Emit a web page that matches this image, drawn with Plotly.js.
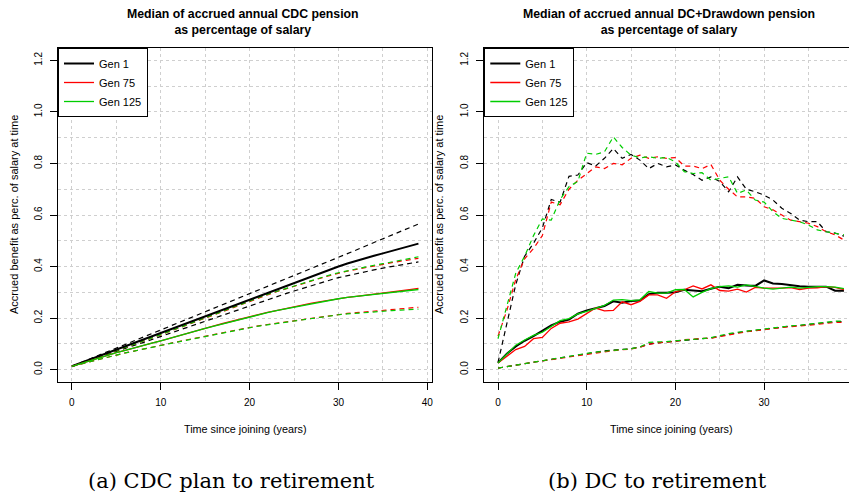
<!DOCTYPE html>
<html>
<head>
<meta charset="utf-8">
<script src="https://cdn.plot.ly/plotly-3.0.1.min.js"></script>
<style>html,body{margin:0;padding:0;background:#fff;} #chart{width:849px;height:498px;}</style>
</head>
<body>
<div id="chart"></div>
<script>
// ---------- data ----------
const years = [0,1,2,3,4,5,6,7,8,9,10,11,12,13,14,15,16,17,18,19,20,21,22,23,24,25,26,27,28,29,30,31,32,33,34,35,36,37,38,39];
const genNames = ["Gen 1", "Gen 75", "Gen 125"];
const genColors = ["#000000", "#FF0000", "#00CD00"];

// Panel (a): CDC plan – median (solid) with upper / lower dashed bands
const cdcGen1Med  = [0.013,0.026,0.039,0.052,0.065,0.078,0.091,0.104,0.117,0.129,0.142,0.155,0.167,0.180,0.193,0.206,0.219,0.232,0.245,0.258,0.271,0.284,0.297,0.310,0.323,0.336,0.349,0.362,0.375,0.388,0.400,0.412,0.423,0.433,0.442,0.451,0.461,0.471,0.480,0.489];
const cdcGen1Hi   = [0.013,0.027,0.041,0.055,0.069,0.084,0.098,0.112,0.126,0.141,0.155,0.169,0.183,0.197,0.211,0.225,0.239,0.253,0.266,0.280,0.293,0.307,0.321,0.335,0.349,0.363,0.378,0.392,0.407,0.421,0.436,0.450,0.464,0.479,0.493,0.507,0.522,0.536,0.551,0.565];
const cdcGen1Lo   = [0.013,0.025,0.037,0.049,0.060,0.072,0.083,0.094,0.105,0.117,0.128,0.140,0.152,0.163,0.175,0.187,0.199,0.211,0.223,0.236,0.248,0.260,0.271,0.283,0.294,0.305,0.316,0.326,0.337,0.347,0.357,0.365,0.373,0.380,0.387,0.394,0.400,0.406,0.412,0.418];
const cdcGen75Med = [0.013,0.024,0.035,0.045,0.056,0.066,0.075,0.085,0.094,0.103,0.112,0.122,0.132,0.141,0.151,0.160,0.170,0.179,0.188,0.197,0.206,0.214,0.222,0.229,0.237,0.244,0.251,0.258,0.264,0.270,0.276,0.280,0.284,0.288,0.292,0.296,0.300,0.305,0.310,0.315];
const cdcGen75Hi  = [0.013,0.025,0.037,0.049,0.061,0.073,0.085,0.097,0.110,0.122,0.135,0.148,0.161,0.174,0.187,0.200,0.214,0.227,0.241,0.254,0.267,0.279,0.290,0.302,0.313,0.324,0.334,0.345,0.355,0.365,0.374,0.382,0.389,0.396,0.403,0.409,0.415,0.421,0.427,0.432];
const cdcGen75Lo  = [0.013,0.022,0.031,0.040,0.048,0.057,0.065,0.072,0.080,0.087,0.095,0.102,0.109,0.116,0.123,0.130,0.137,0.144,0.151,0.158,0.165,0.170,0.175,0.180,0.185,0.190,0.195,0.200,0.205,0.210,0.215,0.218,0.221,0.224,0.227,0.230,0.233,0.236,0.239,0.242];
const cdcGen125Med= [0.013,0.024,0.035,0.045,0.056,0.066,0.075,0.085,0.094,0.103,0.112,0.122,0.131,0.141,0.150,0.160,0.169,0.178,0.187,0.196,0.205,0.213,0.221,0.229,0.236,0.243,0.250,0.257,0.263,0.269,0.275,0.280,0.284,0.288,0.291,0.295,0.298,0.302,0.306,0.311];
const cdcGen125Hi = [0.013,0.025,0.037,0.049,0.061,0.073,0.086,0.098,0.111,0.123,0.136,0.149,0.162,0.175,0.188,0.201,0.215,0.228,0.242,0.255,0.268,0.280,0.292,0.303,0.314,0.325,0.336,0.347,0.357,0.367,0.376,0.384,0.391,0.398,0.405,0.411,0.418,0.425,0.432,0.438];
const cdcGen125Lo = [0.013,0.022,0.031,0.040,0.048,0.057,0.065,0.072,0.080,0.087,0.094,0.101,0.108,0.115,0.122,0.129,0.136,0.143,0.150,0.157,0.164,0.169,0.174,0.179,0.184,0.189,0.194,0.199,0.204,0.209,0.213,0.216,0.219,0.222,0.225,0.227,0.229,0.231,0.233,0.235];

// Panel (b): DC + drawdown
const dcGen1Med   = [0.026,0.062,0.090,0.112,0.130,0.150,0.172,0.186,0.194,0.217,0.230,0.238,0.247,0.265,0.260,0.266,0.268,0.293,0.298,0.298,0.300,0.310,0.308,0.304,0.314,0.322,0.316,0.329,0.326,0.325,0.346,0.334,0.332,0.327,0.324,0.322,0.323,0.322,0.306,0.306];
const dcGen1Hi    = [0.028,0.180,0.330,0.440,0.490,0.550,0.660,0.650,0.750,0.755,0.803,0.790,0.820,0.858,0.820,0.835,0.813,0.780,0.800,0.787,0.794,0.774,0.757,0.735,0.748,0.730,0.690,0.748,0.700,0.690,0.677,0.658,0.626,0.606,0.580,0.574,0.574,0.535,0.530,0.518];
const dcGen1Lo    = [0.006,0.012,0.018,0.024,0.030,0.035,0.040,0.046,0.051,0.056,0.062,0.068,0.073,0.076,0.079,0.081,0.088,0.099,0.104,0.107,0.111,0.114,0.117,0.120,0.123,0.130,0.137,0.143,0.148,0.152,0.156,0.161,0.166,0.169,0.171,0.175,0.179,0.183,0.186,0.186];
const dcGen75Med  = [0.026,0.052,0.078,0.090,0.120,0.125,0.160,0.180,0.185,0.196,0.219,0.239,0.228,0.230,0.263,0.252,0.265,0.290,0.290,0.277,0.302,0.310,0.325,0.313,0.329,0.307,0.305,0.312,0.301,0.319,0.316,0.315,0.316,0.318,0.311,0.316,0.317,0.322,0.319,0.310];
const dcGen75Hi   = [0.130,0.230,0.350,0.430,0.470,0.520,0.650,0.640,0.700,0.735,0.760,0.787,0.780,0.800,0.795,0.820,0.832,0.820,0.826,0.820,0.823,0.790,0.790,0.780,0.796,0.735,0.700,0.670,0.670,0.665,0.632,0.620,0.600,0.580,0.574,0.568,0.555,0.535,0.523,0.503];
const dcGen75Lo   = [0.006,0.011,0.017,0.023,0.029,0.034,0.039,0.045,0.050,0.055,0.061,0.066,0.070,0.074,0.077,0.080,0.087,0.098,0.104,0.107,0.110,0.116,0.119,0.121,0.122,0.128,0.135,0.142,0.147,0.151,0.154,0.159,0.164,0.166,0.168,0.172,0.176,0.180,0.183,0.183];
const dcGen125Med = [0.026,0.062,0.095,0.115,0.133,0.145,0.168,0.190,0.198,0.216,0.226,0.239,0.249,0.270,0.272,0.268,0.271,0.303,0.297,0.297,0.310,0.311,0.282,0.300,0.314,0.322,0.325,0.320,0.329,0.323,0.316,0.312,0.316,0.320,0.316,0.320,0.322,0.322,0.320,0.314];
const dcGen125Hi  = [0.120,0.245,0.374,0.440,0.520,0.585,0.580,0.660,0.710,0.730,0.840,0.835,0.845,0.903,0.862,0.832,0.822,0.826,0.820,0.823,0.806,0.768,0.761,0.764,0.735,0.742,0.748,0.684,0.697,0.658,0.650,0.613,0.587,0.580,0.574,0.561,0.542,0.535,0.529,0.523];
const dcGen125Lo  = [0.006,0.012,0.018,0.024,0.030,0.035,0.041,0.047,0.052,0.057,0.063,0.068,0.072,0.075,0.078,0.081,0.088,0.106,0.107,0.109,0.112,0.114,0.116,0.120,0.124,0.132,0.140,0.145,0.149,0.153,0.157,0.162,0.167,0.170,0.172,0.176,0.180,0.184,0.188,0.188];

const titleA = "Median of accrued annual CDC pension<br>as percentage of salary";
const titleB = "Median of accrued annual DC+Drawdown pension<br>as percentage of salary";
const xTitle = "Time since joining (years)";
const yTitle = "Accrued benefit as perc. of salary at time";
const captionA = "(a) CDC plan to retirement";
const captionB = "(b) DC to retirement";

// ---------- traces ----------
const panels = [
  {xa: "x", ya: "y", legend: "legend",
   med: [cdcGen1Med, cdcGen75Med, cdcGen125Med],
   hi:  [cdcGen1Hi,  cdcGen75Hi,  cdcGen125Hi],
   lo:  [cdcGen1Lo,  cdcGen75Lo,  cdcGen125Lo]},
  {xa: "x2", ya: "y2", legend: "legend2",
   med: [dcGen1Med, dcGen75Med, dcGen125Med],
   hi:  [dcGen1Hi,  dcGen75Hi,  dcGen125Hi],
   lo:  [dcGen1Lo,  dcGen75Lo,  dcGen125Lo]}
];
const traces = [];
panels.forEach(p => {
  for (let g = 0; g < 3; g++) {
    [p.hi[g], p.lo[g]].forEach(arr => traces.push({
      x: years, y: arr, xaxis: p.xa, yaxis: p.ya, type: "scatter", mode: "lines",
      line: {color: genColors[g], width: 1.2, dash: "5px,4px"},
      showlegend: false, hoverinfo: "skip"
    }));
  }
  for (let g = 0; g < 3; g++) {
    traces.push({
      x: years, y: p.med[g], xaxis: p.xa, yaxis: p.ya, type: "scatter", mode: "lines",
      name: genNames[g], legend: p.legend,
      line: {color: genColors[g], width: g === 0 ? 2 : 1.3}
    });
  }
});

// ---------- layout ----------
const W = 849, H = 498;
const F = "Liberation Sans, Arial, Helvetica, sans-serif";
const grid = {gridcolor: "#cfcfcf", griddash: "dot", gridwidth: 1};
function xAxis(dom, rng, anchor) {
  return Object.assign({
    domain: dom, range: rng, anchor: anchor, tickmode: "linear", tick0: 0, dtick: 10,
    ticks: "outside", ticklen: 7, tickcolor: "#000", tickwidth: 1,
    showline: true, mirror: true, linecolor: "#000", linewidth: 1,
    showgrid: true, zeroline: false, ticklabelstandoff: 4,
    tickfont: {family: F, size: 10, color: "#000"},
    minor: Object.assign({tick0: 0, dtick: 5, showgrid: true, ticks: ""}, grid)
  }, grid);
}
function yAxis(dom, anchor, mirror) {
  return Object.assign({
    domain: dom, range: [-0.048, 1.248], anchor: anchor, tickmode: "linear", tick0: 0, dtick: 0.2,
    tickformat: ".1f", tickangle: -90,
    ticks: "outside", ticklen: 7, tickcolor: "#000", tickwidth: 1,
    showline: true, mirror: mirror, linecolor: "#000", linewidth: 1,
    showgrid: true, zeroline: false, ticklabelstandoff: 4,
    tickfont: {family: F, size: 10, color: "#000"},
    minor: Object.assign({tick0: 0, dtick: 0.1, showgrid: true, ticks: ""}, grid)
  }, grid);
}
const yDom = [(H - 382) / H, (H - 48) / H];
function legendAt(px) {
  return {x: px / W, y: 1 - 48 / H, xanchor: "left", yanchor: "top",
    bgcolor: "#fff", bordercolor: "#000", borderwidth: 1, itemwidth: 30,
    font: {family: F, size: 11, color: "#000"}, tracegroupgap: 0};
}
function ann(text, xpx, ypx, size, opts) {
  return Object.assign({text: text, xref: "paper", yref: "paper", x: xpx / W, y: 1 - ypx / H,
    xanchor: "center", yanchor: "middle", showarrow: false,
    font: {family: F, size: size, color: "#000"}}, opts || {});
}
const serif = {family: "DejaVu Serif, Liberation Serif, serif", size: 21, color: "#000"};
const layout = {
  width: W, height: H, margin: {l: 0, r: 0, t: 0, b: 0},
  paper_bgcolor: "#fff", plot_bgcolor: "#fff", showlegend: true,
  xaxis: xAxis([58 / W, 432.3 / W], [-1.56, 40.56], "y"),
  yaxis: yAxis(yDom, "x", true),
  xaxis2: xAxis([484.3 / W, 1], [-1.545, 39.57], "y2"),
  yaxis2: yAxis(yDom, "x2", false),
  legend: legendAt(58),
  legend2: legendAt(484.3),
  annotations: [
    ann("<b>" + titleA + "</b>", 243, 22, 12.3),
    ann("<b>" + titleB + "</b>", 669, 22, 12.3),
    ann(xTitle, 245, 429, 10.8),
    ann(xTitle, 671, 429, 10.8),
    ann(yTitle, 14, 215, 11, {textangle: -90}),
    ann(yTitle, 439, 215, 11, {textangle: -90}),
    ann(captionA, 231, 481, 21, {font: serif}),
    ann(captionB, 657, 481, 21, {font: serif})
  ]
};
Plotly.newPlot("chart", traces, layout, {displayModeBar: false, staticPlot: true});
</script>
</body>
</html>
